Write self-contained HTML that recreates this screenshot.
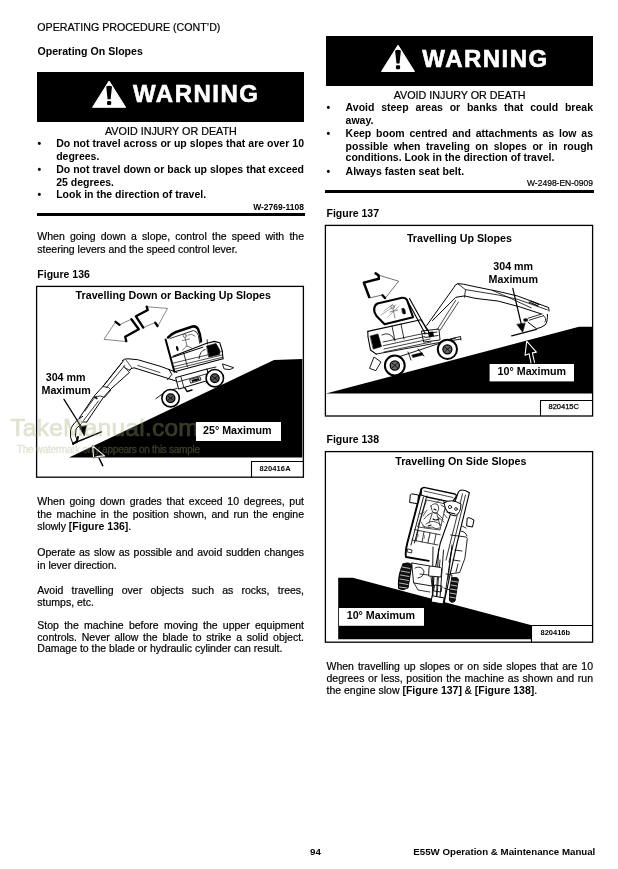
<!DOCTYPE html>
<html><head><meta charset="utf-8"><title>Operating On Slopes</title>
<style>
html,body{margin:0;padding:0;background:#fff;}
body{width:618px;height:869px;position:relative;overflow:hidden;font-family:"Liberation Sans",sans-serif;color:#000;}
.t{position:absolute;white-space:nowrap;font-size:10.5px;line-height:13px;-webkit-text-stroke:0.2px #000;}
.t[style*="bold"],.t b{-webkit-text-stroke:0;}
svg.g{position:absolute;left:0;top:0;}
</style></head><body>
<svg class="g" width="618" height="869" viewBox="0 0 618 869">
<rect x="37" y="72" width="267" height="50" fill="#000"/>
<path d="M109.1,81 L125.6,107.3 L92.6,107.3 Z" fill="#fff" stroke="#fff" stroke-width="1" stroke-linejoin="round"/>
<path d="M106.19999999999999,86.5 Q109.1,84.8 112.0,86.5 L110.6,99.3 L107.6,99.3 Z" fill="#000"/>
<rect x="107.0" y="101" width="4.2" height="4" rx="1.2" fill="#000"/>
<rect x="326" y="36" width="267" height="50" fill="#000"/>
<path d="M398.0,45.2 L414.5,71.5 L381.5,71.5 Z" fill="#fff" stroke="#fff" stroke-width="1" stroke-linejoin="round"/>
<path d="M395.1,50.7 Q398.0,49.0 400.9,50.7 L399.5,63.5 L396.5,63.5 Z" fill="#000"/>
<rect x="395.9" y="65.2" width="4.2" height="4" rx="1.2" fill="#000"/>
<rect x="37" y="213" width="268" height="3" fill="#000"/>
<rect x="325" y="190" width="269" height="3" fill="#000"/>
<rect x="36.6" y="286.4" width="266.8" height="190.8" fill="none" stroke="#000" stroke-width="1.3"/>
<rect x="325.4" y="225.4" width="267.2" height="190.6" fill="none" stroke="#000" stroke-width="1.3"/>
<rect x="325.4" y="451.6" width="267.2" height="190.6" fill="none" stroke="#000" stroke-width="1.3"/>
<path d="M69,457.5 L274,360 L302.3,359 L302.3,457.5 Z" fill="#000"/>
<rect x="196" y="422" width="85" height="19" fill="#fff"/>
<path d="M251.5,477 L251.5,461.5 L303,461.5" fill="none" stroke="#000" stroke-width="1.1"/>
<path d="M326,393.5 L579,326.8 L592,326.8 L592,393.5 Z" fill="#000"/>
<rect x="489.6" y="364" width="84.4" height="17.4" fill="#fff"/>
<path d="M540.5,416 L540.5,400.5 L592,400.5" fill="none" stroke="#000" stroke-width="1.1"/>
<path d="M338.2,577.7 L352.8,577.7 L531.6,625.3 L531.6,639.2 L338.2,639.2 Z" fill="#000"/>
<rect x="339" y="608" width="85" height="17.8" fill="#fff"/>
<path d="M531.5,642 L531.5,625.5 L592,625.5" fill="none" stroke="#000" stroke-width="1.1"/>

<g fill="none" stroke="#000" stroke-linejoin="round" stroke-linecap="round">
 <!-- double arrow -->
 <path d="M104.2,339 L115.6,321.8 L119.5,324.8 L131.4,319.2 L138.8,329.3 L125.2,336.7 L126.3,341.2 Z" fill="#fff" stroke="#555" stroke-width="0.7"/>
 <path d="M115.6,321.8 L119.5,324.8 M131.4,319.2 L138.8,329.3 L125.2,336.7 L126.3,341.2" stroke-width="2.3"/>
 <path d="M167.1,308.4 L146.7,306.7 L147.8,310.1 L135.9,316.3 L143.3,327.6 L155.2,322.6 L157.5,326 Z" fill="#fff" stroke="#555" stroke-width="0.7"/>
 <path d="M146.7,306.7 L147.8,310.1 L135.9,316.3 L143.3,327.6 M155.2,322.6 L157.5,326" stroke-width="2.3"/>
 <!-- boom -->
 <path d="M122.3,360.5 Q124,358.6 128,358.8 L137.7,359.7 L160,366.2 L177,372.5" stroke-width="1"/>
 <path d="M129.6,370.5 Q130,368 134,367.8 L160,375.9 L176,381" stroke-width="1"/>
 <path d="M124.7,367.8 L129.6,370 M137.7,365.4 L160,372.6 M126,360 L131.5,367.5" stroke-width="0.7"/>
 <!-- arm -->
 <path d="M123.5,360.8 L103.2,386.1 L94.4,395.8 L79.9,417.1" stroke-width="1"/>
 <path d="M129.4,372.5 L110.9,389 L103.2,397.7 L86.7,422" stroke-width="1"/>
 <path d="M121.6,362.8 L104.1,385.1 M124.8,365.5 L106.5,387.5 M123.5,366 L129,372" stroke-width="0.8"/>
 <path d="M102.8,386.5 L108.5,387.5 L111,390 L104.5,397.5 L100.5,396 L96,396.5" stroke-width="0.8"/>
 <path d="M98.5,401 L83.5,420.5 M95,397 L85,411" stroke-width="0.75"/>
 <path d="M94.8,397 L96.8,398.5" stroke-width="1.6"/>
 <path d="M79.9,417.1 Q78.5,420 80.5,422 L86.7,422" stroke-width="0.9"/>
 <!-- bucket -->
 <path d="M82.7,416.3 Q73,422 70.5,430 Q69.5,438 73,444 L78,442 Q74,436 76,429 L81,424" stroke-width="1" fill="#fff"/>
 <path d="M73,444 L77,441 L78,437" stroke-width="2"/>
 <path d="M77.8,421.2 L81,429.3" stroke-width="0.8"/>
 <!-- pointer -->
 <path d="M64,399.4 L82,428" stroke-width="1.3"/>
 <path d="M79.4,427.2 L84.3,435.8 L86.4,425.8 Z" fill="#000" stroke-width="0.6"/>
 <path d="M73,443.5 L101.4,431.9" stroke-width="1.4"/>
 <path d="M92.6,445.9 L104.6,455.9 L98.3,456.4 L93.6,457.8 Z" stroke="#fff" stroke-width="1.1" style="mix-blend-mode:difference"/><path d="M98.8,457.5 L102.7,465.6" stroke="#fff" stroke-width="1.5" style="mix-blend-mode:difference"/>
 <!-- cab -->
 <path d="M168,337.5 Q171,334 176,332 L192.5,326.5 Q196,325.8 198,329 Q200.5,334 201,341.4" stroke-width="2.5"/>
 <path d="M170,338.5 L193.5,330.5 Q197,331 198.4,335.5 L199.7,343.3" stroke-width="0.8"/>
 <path d="M165.6,339.4 L174.4,371.8" stroke-width="2"/>
 <path d="M171.8,357.5 L202.9,347.2" stroke-width="1"/>
 <circle cx="184.7" cy="335.8" r="1.6" stroke="#444" stroke-width="0.7"/>
 <path d="M185,337.5 L187,346 M182.5,340.5 L189.5,339 M186.8,346 L182.5,350 M187,346 L191.5,348 M188,335 Q192,333 195,336" stroke="#444" stroke-width="0.7"/>
 <ellipse cx="177.3" cy="348.5" rx="1.2" ry="2.6" fill="#000" stroke="none" transform="rotate(-15 177.3 348.5)"/>
 <!-- upper body -->
 <path d="M173.1,356.2 L206.8,343.3 L214.5,341.4 L219.7,342.7 L222.3,351 L223,358.8" stroke-width="1.1"/>
 <path d="M174.4,371.8 L223,358.8" stroke-width="1.1"/>
 <path d="M173.5,363 L222,351.5 M174,366.6 L222.3,355 M174.2,369.2 L222.5,357.3" stroke-width="0.7"/>
 <path d="M206.8,345.9 L216,343.5 L219.7,350 L219.7,354.5 L209,357 Z" fill="#000" stroke-width="0.6"/>
 <path d="M183.5,352.4 L187.4,366.6 M199,358.8 Q200,350.5 205,349.5 M207,339.5 L207.6,344" stroke-width="0.8"/>
 <!-- chassis -->
 <path d="M167.5,379.8 L171.8,374.5 L168.9,369.2" stroke-width="1"/>
 <path d="M176,377.5 L207,369 L209.5,380 L179,389 Z" fill="#fff" stroke-width="1"/>
 <path d="M177.5,382 L208,373.5 M181,377 L184,388 M190,379.5 L200,376.8 L201,380 L191,383 Z" stroke-width="0.8"/>
 <path d="M191.5,380 L199,378 L199.6,380 L192,382 Z" fill="#000" stroke="none"/>
 <path d="M185,388 L187,391.5 L192,390" stroke-width="1.4"/>
 <path d="M155.8,398.7 L166,391.4 L177,388.5" stroke-width="0.9"/>
 <path d="M207,369 L216,367 M209.5,380 L206,383" stroke-width="0.9"/>
 <path d="M222.8,364 L233.7,367.7 L230,369.6 L224.5,369 Z" stroke-width="0.9"/>
 <!-- wheels -->
 <circle cx="170.6" cy="398.2" r="8.7" fill="#fff" stroke-width="1.6"/>
 <circle cx="170.6" cy="398.2" r="4.3" fill="#555" stroke-width="1.3"/>
 <path d="M168.2,396.3 L173,400.1 M173,396.3 L168.2,400.1" stroke="#000" stroke-width="0.8"/>
 <circle cx="214.8" cy="378.2" r="8.7" fill="#fff" stroke-width="1.6"/>
 <circle cx="214.8" cy="378.2" r="4.3" fill="#555" stroke-width="1.3"/>
 <path d="M212.4,376.3 L217.2,380.1 M217.2,376.3 L212.4,380.1" stroke="#000" stroke-width="0.8"/>
</g>


<g font-family="Liberation Sans" fill="rgb(159,174,117)" stroke="rgb(159,174,117)" opacity="0.34">
 <text x="10.3" y="435.6" font-size="24.5" stroke-width="0.7" letter-spacing="0.25">TakeManual.com</text>
 <text x="16.8" y="453.4" font-size="10" stroke-width="0.3" letter-spacing="-0.27">The watermark only appears on this sample</text>
</g>

<rect x="196" y="422" width="85" height="19" fill="#fff"/>

<g fill="none" stroke="#000" stroke-linejoin="round" stroke-linecap="round">
 <!-- arrow -->
 <path d="M378.5,275.1 L398.7,281.2 L385.3,298.2 M370.4,297.8 L382.5,294.9" stroke="#333" stroke-width="0.7"/>
 <path d="M375.6,273.4 L378.5,275.3 L378.9,278.8 L363.8,282.6 L369.2,297" stroke-width="2.5"/><path d="M382.5,295.3 L385,298" stroke-width="2.4"/>
 <!-- boom -->
 <path d="M426.7,325.5 L453.8,287.6 Q455,284 458,283.7 L463.5,284.2 L475,286.7 L498.3,291.4 L517.6,296 L548.7,307.6 L549,311" stroke-width="1"/>
 <path d="M432.5,320.6 L455.8,297.3 L464.5,295.9 L475,298.3 L498.3,301.1 L520.2,307 L540.9,313.8" stroke-width="1"/>
 <path d="M465.5,289.6 L464.5,297.3 M458,284 L465.5,289.6 L498.3,295 L518.2,299.5 L547.4,309.9 M492.4,290.4 L508,297.2 L531.3,307.9" stroke-width="0.8"/>
 <path d="M529,302 L538,306 M531,301 L539,304.5" stroke-width="1.1"/>
 <path d="M437.3,329.4 L455.8,300.2 M440.2,330 L458.5,302" stroke-width="0.7"/>
 <path d="M547.4,314.4 L547.4,317.7 Q547,323 545.4,324.8 Q541,328 536.4,328.7 L528,322.2" stroke-width="1"/>
 <path d="M529.2,320.2 L543.5,315.7 M528,318.3 L542.2,313.8 M543.5,315.7 Q547,318 545,322" stroke-width="0.8"/>
 <ellipse cx="525.6" cy="320" rx="2.4" ry="1.7" fill="#000" stroke="none"/>
 <!-- pointer -->
 <path d="M512.8,288.4 L521.5,325" stroke-width="1.2"/>
 <path d="M517,324.6 L522.7,332.2 L525.1,323.3 Z" fill="#000" stroke-width="0.6"/>
 <path d="M511.7,335.9 L536.4,329.3" stroke-width="1.3"/>
 <path d="M531,363 L529.1,353.7 L525.1,355.3 L526.7,341.1 L536.4,352.1 L532.4,352.9 L534.5,362.5" stroke="#fff" stroke-width="1.1" style="mix-blend-mode:difference"/>
 <!-- cab -->
 <path d="M384.6,324.3 L376.5,316 Q373.8,312 374.2,309 Q374.5,305 377.5,303.5 L402,297.8 Q405.5,297.3 407,300 L413,317.2 Z" stroke-width="2.1"/>
 <path d="M406.6,299 L424.7,332.7 M409.5,298.5 L427,330" stroke-width="1.1"/>
 <path d="M384,311 L393,304 M381,315 L396,305 M388,317 L399,306" stroke="#777" stroke-width="0.6"/>
 <circle cx="392.5" cy="307" r="1.8" stroke="#555" stroke-width="0.7"/>
 <path d="M393,309 L395,318 M390,312 L398,310" stroke="#555" stroke-width="0.7"/>
 <path d="M402,308.5 Q404.5,307.5 405,310 L405.5,313.5 Q403.5,315 402.5,313 Z" fill="#000" stroke-width="0.6"/>
 <path d="M401,324 L404,339 M392,326 L395,341" stroke-width="0.8"/>
 <!-- upper body -->
 <path d="M367.8,331.4 L420.8,319.8 L428,330 L430,337" stroke-width="1.1"/>
 <path d="M367.8,331.4 L368,337 L370.5,350 L376.2,354.1" stroke-width="1.1"/>
 <path d="M370.4,336 L378,334 L381.5,346.5 L373.5,349 Z" fill="#000" stroke-width="0.6"/>
 <path d="M383.3,345.7 L424.7,336.6 M383,342 L426,333 M384,349 L430,339 M384,352 L431,342" stroke-width="0.75"/>
 <path d="M382,335 Q390,331 394,339" stroke-width="0.8"/>
 <path d="M421.8,331 L439,329 L440,340 L424,342 Z M424,334 L437,332 M425,337.5 L438,335.5" stroke-width="0.9"/><path d="M428,332 L433,331.5 L434,336 L429,337 Z" fill="#000" stroke="none"/>
 <!-- chassis -->
 <path d="M376.2,354.1 L437.7,342.8 L460.6,339.1 M387.5,360.6 L455.5,338 M408,352 L411,360 M418,349 L424,356" stroke-width="0.9"/>
 <path d="M412,355 L422,352.5 L423,355 L413,357.5 Z" fill="#000" stroke-width="0.5"/>
 <path d="M450,339 L460.6,336.5 L461,340" stroke-width="0.9"/>
 <path d="M369.7,368 L374,357 L381,362 L376,370.3 Z" stroke-width="0.9"/>
 <!-- wheels -->
 <circle cx="394.8" cy="365.5" r="9.9" fill="#fff" stroke-width="2"/>
 <circle cx="394.8" cy="365.5" r="4.6" fill="#666" stroke-width="1.3"/>
 <path d="M392,363 L397.6,368 M397.6,363 L392,368" stroke-width="0.8"/>
 <circle cx="447.4" cy="349.3" r="9.6" fill="#fff" stroke-width="2"/>
 <circle cx="447.4" cy="349.3" r="4.5" fill="#666" stroke-width="1.3"/>
 <path d="M444.6,346.8 L450.2,351.8 M450.2,346.8 L444.6,351.8" stroke-width="0.8"/>
</g>


<g fill="none" stroke="#000" stroke-linejoin="round" stroke-linecap="round">
 <!-- cab shell -->
 <path d="M421.5,488.8 Q422.5,487.2 425,487.6 L455,494 Q457,495 456,497 L452,502.4 L427,497 L421,495 Z" fill="#fff" stroke-width="1.3"/>
 <path d="M424,491 L453,497.5" stroke-width="0.7"/>
 <path d="M421.5,488.8 L407.3,543 Q405,552 406,557 L428.7,560.9" stroke-width="1.9"/>
 <path d="M426.7,496 L414.4,543 M423.5,497 L411,545" stroke-width="0.9"/>
 <path d="M410.5,494.5 Q411,493.5 413,494 L418.5,495 L417.5,503.7 L410,502.5 Z" fill="#fff" stroke-width="1"/>
 <path d="M427,500 L446,504 L440,530 L418,527 Z" stroke-width="0.7"/>
 <path d="M431,506 Q434,502 438,505 Q440,509 437,513 Q432,515 431,506 Z M424,519 Q430,511 437,513 L443,519 M426,524 Q433,518 441,525 M432,514 L429,523 M437,514 L440,526 M441,505 L446,508 L444,512 M423,526 Q428,529 432,527 Q436,530 440,528" stroke="#222" stroke-width="0.8"/>
 <path d="M436,503 L441,499 L446,504 M420,514 L424,512 M444,514 L447,518 M427,510 L423,516 M438,517 L444,522 M421,522 L425,528" stroke="#333" stroke-width="0.8"/>
 <path d="M433,519 Q436,521 439,519 M428,526 L431,525 M434,509 L436,510" stroke="#000" stroke-width="1.1"/>
 <path d="M447,509 L452,511 M453,503 L458,505" stroke="#000" stroke-width="1.3"/>
 <path d="M414.4,529.6 L440.3,534.8 M412,540 L438,545 M418,531 L416,541 M424,532 L422,542 M430,533 L428,543 M436,534 L434,544" stroke-width="0.75"/>
 <path d="M417,533 Q419,534 418,537 M423,534 Q426,535 424,539 M430,535 L428,540" stroke="#444" stroke-width="0.6"/>
 <path d="M408,549 L412,550 L411.5,553 L407.5,552 Z" stroke-width="0.8"/>
 <!-- engine cover right -->
 <path d="M461,531 Q466,532 467,536" stroke-width="0.9"/>
 <path d="M467.5,518 Q469,517 471,518.5 L474,520 L472.5,527 L467,526 Z" fill="#fff" stroke-width="1"/>
 <path d="M462,526 L466,528" stroke-width="0.8"/>
 <!-- boom column -->
 <path d="M459.7,490.5 Q464,489 469.4,492.7 L457.1,543 L450,575 L444.2,602.3 L432.5,599.7 L434,575 L440.3,543 L458.4,492 Z" fill="#fff" stroke-width="1.1"/>
 <path d="M462.5,494 L446,560 M465.5,495 L449,562 M452,545 L448,580 M440,560 L437,596" stroke-width="0.8"/>
 <path d="M444,503 Q451,498 461,504 Q461,513 455,516 Q446,515 444,503 Z" fill="#fff" stroke-width="1"/><circle cx="450" cy="507" r="1.6" stroke-width="0.8"/><circle cx="456" cy="509" r="1.4" stroke-width="0.8"/>
 <path d="M447,512 L455,514" stroke-width="1.2"/>
 <path d="M435,585 L442,586 L441,592 L434,591 Z" stroke-width="0.9"/>
 <!-- chassis middle -->
 <path d="M412,563 L430,566 L432,586 L414,583 Z" fill="#fff" stroke-width="0.9"/>
 <path d="M415,568 Q421,565 424,571 Q424,577 418,578 M420,574 L428,575 M414,583 L418,590 L430,592" stroke-width="0.8"/>
 <path d="M433,547 L432.3,599.5 M452,547 L444.2,601 M438.5,549 L436.5,598 M443.5,550 L440,598" stroke-width="0.9"/>
 <path d="M429,567.5 Q429,566 431,566 L440.5,567.5 Q442,568 441.6,570 L441,577 L429,576 Z" fill="#fff" stroke-width="0.9"/>
 <path d="M450.7,535 L466,537 Q468,538 467,541 L464.9,558.3 L459.7,572.5 L450.7,573.8 M455,550 L462,551 M453,560 L460,561 M458,564 L456,572" stroke-width="0.85"/>
 <path d="M446,574 L452,575 L450,590 L444,588" stroke-width="0.8"/>
 <path d="M432.5,595.8 L444.2,598 L443,604 L431.5,602 Z" fill="#fff" stroke-width="1"/>
 <!-- tires -->
 <path d="M403,564 Q409,561.5 411.8,565 L408,588 Q403,591 398.5,588.5 Q397.5,575 403,564 Z" fill="#111" stroke-width="1"/>
 <path d="M402,567 L410,568.5 M401,571 L409.5,572.5 M400.5,575 L409,576.5 M400,579 L408.5,580.5 M399.5,583 L408,584.5 M399.5,587 L407,588" stroke="#fff" stroke-width="0.7"/>
 <path d="M452,578 Q456.5,576.5 458.4,579 L455,601 Q451,604 449.4,600 Q449,588 452,578 Z" fill="#111" stroke-width="1"/>
 <path d="M451.5,581 L457.5,582 M451,585 L457,586 M450.5,589 L456.5,590 M450,593 L456,594 M450,597 L455.5,598" stroke="#fff" stroke-width="0.7"/>
</g>

</svg>
<div class="t" style="top:21px;font-size:10.65px;left:37.3px;">OPERATING PROCEDURE (CONT&#8217;D)</div>
<div class="t" style="top:45px;font-size:10.6px;font-weight:bold;left:37.5px;">Operating On Slopes</div>
<div class="t" style="top:125px;font-size:10.75px;left:-29.099999999999994px;width:400px;text-align:center;">AVOID INJURY OR DEATH</div>
<div class="t" style="top:137px;font-size:10.5px;font-weight:bold;left:37.5px;">&#8226;</div>
<div class="t" style="top:137px;font-size:10.5px;font-weight:bold;left:56.2px;width:247.8px;text-align:justify;text-align-last:justify;white-space:normal;">Do not travel across or up slopes that are over 10</div>
<div class="t" style="top:150px;font-size:10.5px;font-weight:bold;left:56.2px;">degrees.</div>
<div class="t" style="top:163px;font-size:10.5px;font-weight:bold;left:37.5px;">&#8226;</div>
<div class="t" style="top:163px;font-size:10.5px;font-weight:bold;left:56.2px;width:247.8px;text-align:justify;text-align-last:justify;white-space:normal;">Do not travel down or back up slopes that exceed</div>
<div class="t" style="top:176px;font-size:10.5px;font-weight:bold;left:56.2px;">25 degrees.</div>
<div class="t" style="top:188px;font-size:10.5px;font-weight:bold;left:37.5px;">&#8226;</div>
<div class="t" style="top:188px;font-size:10.5px;font-weight:bold;left:56.2px;">Look in the direction of travel.</div>
<div class="t" style="top:201px;font-size:8.5px;font-weight:bold;right:314px;text-align:right;">W-2769-1108</div>
<div class="t" style="top:230px;font-size:10.5px;left:37.3px;width:266.7px;text-align:justify;text-align-last:justify;white-space:normal;">When going down a slope, control the speed with the</div>
<div class="t" style="top:243px;font-size:10.5px;left:37.3px;">steering levers and the speed control lever.</div>
<div class="t" style="top:268px;font-size:10.5px;font-weight:bold;left:37.3px;">Figure 136</div>
<div class="t" style="top:495px;font-size:10.5px;left:37.3px;width:266.7px;text-align:justify;text-align-last:justify;white-space:normal;">When going down grades that exceed 10 degrees, put</div>
<div class="t" style="top:508px;font-size:10.5px;left:37.3px;width:266.7px;text-align:justify;text-align-last:justify;white-space:normal;">the machine in the position shown, and run the engine</div>
<div class="t" style="top:520px;font-size:10.5px;left:37.3px;">slowly <b>[Figure 136]</b>.</div>
<div class="t" style="top:546px;font-size:10.5px;left:37.3px;width:266.7px;text-align:justify;text-align-last:justify;white-space:normal;">Operate as slow as possible and avoid sudden changes</div>
<div class="t" style="top:559px;font-size:10.5px;left:37.3px;">in lever direction.</div>
<div class="t" style="top:584px;font-size:10.5px;left:37.3px;width:266.7px;text-align:justify;text-align-last:justify;white-space:normal;">Avoid travelling over objects such as rocks, trees,</div>
<div class="t" style="top:596px;font-size:10.5px;left:37.3px;">stumps, etc.</div>
<div class="t" style="top:619px;font-size:10.5px;left:37.3px;width:266.7px;text-align:justify;text-align-last:justify;white-space:normal;">Stop the machine before moving the upper equipment</div>
<div class="t" style="top:631px;font-size:10.5px;left:37.3px;width:266.7px;text-align:justify;text-align-last:justify;white-space:normal;">controls. Never allow the blade to strike a solid object.</div>
<div class="t" style="top:642px;font-size:10.5px;left:37.3px;">Damage to the blade or hydraulic cylinder can result.</div>
<div class="t" style="top:89px;font-size:10.75px;left:259.6px;width:400px;text-align:center;">AVOID INJURY OR DEATH</div>
<div class="t" style="top:101px;font-size:10.5px;font-weight:bold;left:326.5px;">&#8226;</div>
<div class="t" style="top:101px;font-size:10.5px;font-weight:bold;left:345.6px;width:247.39999999999998px;text-align:justify;text-align-last:justify;white-space:normal;">Avoid steep areas or banks that could break</div>
<div class="t" style="top:114px;font-size:10.5px;font-weight:bold;left:345.6px;">away.</div>
<div class="t" style="top:127px;font-size:10.5px;font-weight:bold;left:326.5px;">&#8226;</div>
<div class="t" style="top:127px;font-size:10.5px;font-weight:bold;left:345.6px;width:247.39999999999998px;text-align:justify;text-align-last:justify;white-space:normal;">Keep boom centred and attachments as low as</div>
<div class="t" style="top:140px;font-size:10.5px;font-weight:bold;left:345.6px;width:247.39999999999998px;text-align:justify;text-align-last:justify;white-space:normal;">possible when traveling on slopes or in rough</div>
<div class="t" style="top:151px;font-size:10.5px;font-weight:bold;left:345.6px;">conditions. Look in the direction of travel.</div>
<div class="t" style="top:165px;font-size:10.5px;font-weight:bold;left:326.5px;">&#8226;</div>
<div class="t" style="top:165px;font-size:10.5px;font-weight:bold;left:345.6px;">Always fasten seat belt.</div>
<div class="t" style="top:177px;font-size:8.5px;right:25px;text-align:right;">W-2498-EN-0909</div>
<div class="t" style="top:207px;font-size:10.5px;font-weight:bold;left:326.5px;">Figure 137</div>
<div class="t" style="top:433px;font-size:10.5px;font-weight:bold;left:326.5px;">Figure 138</div>
<div class="t" style="top:660px;font-size:10.5px;left:326.5px;width:266.5px;text-align:justify;text-align-last:justify;white-space:normal;">When travelling up slopes or on side slopes that are 10</div>
<div class="t" style="top:672px;font-size:10.5px;left:326.5px;width:266.5px;text-align:justify;text-align-last:justify;white-space:normal;">degrees or less, position the machine as shown and run</div>
<div class="t" style="top:684px;font-size:10.5px;left:326.5px;">the engine slow <b>[Figure 137]</b> &amp; <b>[Figure 138]</b>.</div>
<div class="t" style="top:845px;font-size:9.7px;font-weight:bold;left:310px;">94</div>
<div class="t" style="top:845px;font-size:9.7px;font-weight:bold;right:22.700000000000045px;text-align:right;">E55W Operation &amp; Maintenance Manual</div>
<div class="t" style="left:133px;top:87px;font-size:24px;line-height:13px;font-weight:bold;color:#fff;letter-spacing:1.5px;-webkit-text-stroke:0.6px #fff">WARNING</div>
<div class="t" style="left:422.3px;top:52px;font-size:24px;line-height:13px;font-weight:bold;color:#fff;letter-spacing:1.5px;-webkit-text-stroke:0.6px #fff">WARNING</div>
<div class="t" style="top:424px;font-size:10.7px;font-weight:bold;left:203px;">25&#176; Maximum</div>
<div class="t" style="top:289px;font-size:10.7px;font-weight:bold;left:75.6px;">Travelling Down or Backing Up Slopes</div>
<div class="t" style="top:371px;font-size:10.7px;font-weight:bold;left:45.7px;">304 mm</div>
<div class="t" style="top:384px;font-size:10.7px;font-weight:bold;left:41.5px;">Maximum</div>
<div class="t" style="left:259.5px;top:462px;font-size:7.5px;font-weight:bold;letter-spacing:0.1px">820416A</div>
<div class="t" style="top:365px;font-size:10.7px;font-weight:bold;left:497.6px;">10&#176; Maximum</div>
<div class="t" style="top:232px;font-size:10.7px;font-weight:bold;left:406.9px;">Travelling Up Slopes</div>
<div class="t" style="top:260px;font-size:10.7px;font-weight:bold;left:493.3px;">304 mm</div>
<div class="t" style="top:273px;font-size:10.7px;font-weight:bold;left:488.6px;">Maximum</div>
<div class="t" style="left:548.5px;top:400px;font-size:7.5px;-webkit-text-stroke:0.25px #000">820415C</div>
<div class="t" style="top:609px;font-size:10.7px;font-weight:bold;left:346.7px;">10&#176; Maximum</div>
<div class="t" style="top:455px;font-size:10.7px;font-weight:bold;left:395.2px;">Travelling On Side Slopes</div>
<div class="t" style="left:540.5px;top:626px;font-size:7.5px;font-weight:bold">820416b</div>
</body></html>
